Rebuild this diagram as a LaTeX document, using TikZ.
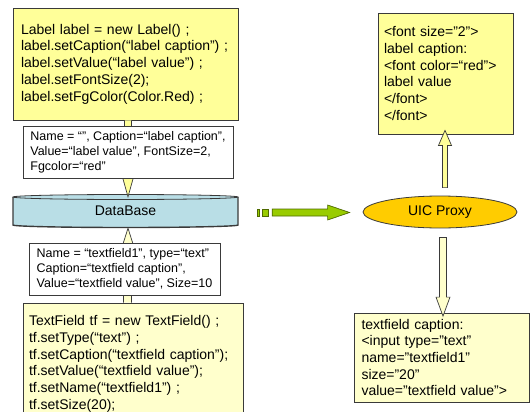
\documentclass[tikz,border=0pt]{standalone}
\usepackage{fontspec}
\setmainfont{Liberation Sans}
\usetikzlibrary{calc,shapes.geometric}

\definecolor{hiyel}{HTML}{FFFF99}
\definecolor{loyel}{HTML}{FFFFCC}
\definecolor{dbblue}{HTML}{B9DEE6}
\definecolor{proxy}{HTML}{FFCC00}
\definecolor{lime}{HTML}{99CC00}
\definecolor{limeedge}{HTML}{4F6A00}
\definecolor{edge}{HTML}{3A3A3A}

\begin{document}
\begin{tikzpicture}[x=1pt,y=-1pt,
  box/.style={draw=edge, line width=0.8pt, rectangle, inner ysep=0pt, align=left},
  code/.style={font=\fontsize{14}{16.7}\selectfont},
  note/.style={font=\fontsize{12.5}{14.8}\selectfont},
  blockarrow/.style={draw=edge, line width=0.7pt, line join=miter},
]
\useasboundingbox (0,0) rectangle (530,412);
\clip (0,0) rectangle (530,412);

% source code boxes
\node[box, code, fill=hiyel, minimum width=225, minimum height=112,
      inner xsep=8, text width=209] (tl) at (125.5,64)
  {Label label = new Label() ;\\
   label.setCaption(“label caption”) ;\\
   label.setValue(“label value”) ;\\
   label.setFontSize(2);\\
   label.setFgColor(Color.Red) ;};

\node[box, code, fill=loyel, minimum width=220, minimum height=122,
      inner xsep=6, text width=208] (bl) at (133,364)
  {TextField tf = new TextField() ;\\
   tf.setType(“text”) ;\\
   tf.setCaption(“textfield caption”);\\
   tf.setValue(“textfield value”);\\
   tf.setName(“textfield1”) ;\\
   tf.setSize(20);};

% database cylinder
\fill[dbblue] (13,197) -- (13,225)
  arc[start angle=180, end angle=0, x radius=112.5, y radius=2.5]
  -- (238,197)
  arc[start angle=0, end angle=-180, x radius=112.5, y radius=2.5] -- cycle;
\draw[edge, line width=0.8pt] (125.5,197) ellipse [x radius=112.5, y radius=2.5];
\draw[edge, line width=1.4pt] (13,197) -- (13,225)
  arc[start angle=180, end angle=0, x radius=112.5, y radius=2.5] -- (238,197);
\node[code, minimum width=225, minimum height=31, inner sep=0] (db) at (125.5,211) {DataBase};

% proxy
\node[ellipse, draw=edge, line width=0.8pt, fill=proxy, code,
      minimum width=154, minimum height=32, inner sep=0] (uic) at (440,212) {UIC Proxy};

% generated markup boxes
\node[box, code, fill=hiyel, minimum width=135, minimum height=121,
      inner xsep=6, text width=123] (tr) at (445.5,73.5)
  {<font size="2">\\
   label caption:\\
   <font color=“red">\\
   label value\\
   </font>\\
   </font>};

\node[box, code, fill=loyel, minimum width=175, minimum height=89,
      inner xsep=7, text width=161] (br) at (442,357.5)
  {textfield caption:\\
   <input type="text"\\
   name="textfield1"\\
   size="20"\\
   value="textfield value">};

% label object into the database
\coordinate (a1s) at ($(tl.south)+(2.5,0)$);
\coordinate (a1e) at ($(db.north)+(2.5,1.5)$);
\draw[blockarrow, fill=hiyel] ($(a1s)+(-3.5,0)$) -- ($(a1e)+(-3.5,-25)$) -- ($(a1e)+(-7,-25)$)
  -- (a1e) -- ($(a1e)+(7,-25)$) -- ($(a1e)+(3.5,-25)$) -- ($(a1s)+(3.5,0)$);

% textfield object into the database
\coordinate (a2s) at ($(bl.north)+(-5.5,0)$);
\coordinate (a2e) at ($(db.south)+(2.5,1.5)$);
\draw[blockarrow, fill=loyel] ($(a2s)+(-4,0)$) -- ($(a2e)+(-4,22)$) -- ($(a2e)+(-7,22)$)
  -- (a2e) -- ($(a2e)+(7,22)$) -- ($(a2e)+(4,22)$) -- ($(a2s)+(4,0)$);

% property boxes laid over the arrows (lines kept whole, block centred)
\node[box, note, fill=white, minimum width=210, minimum height=52,
      inner xsep=4] (w1) at (128,152)
  {Name = “”, Caption=“label caption”,\\
   Value=“label value”, FontSize=2,\\
   Fgcolor=“red”};

\node[box, note, fill=white, minimum width=191, minimum height=52,
      inner xsep=4] (w2) at (124.5,269)
  {Name = “textfield1”, type=“text”\\
   Caption=“textfield caption”,\\
   Value=“textfield value”, Size=10};

% database to proxy
\coordinate (g0) at ($(db.east)+(19,1.5)$);
\coordinate (g1) at ($(uic.west)+(-13,0.5)$);
\draw[limeedge, fill=lime, line width=0.7pt] ($(g0)+(0,-3.5)$) rectangle ($(g0)+(2.5,3.5)$);
\draw[limeedge, fill=lime, line width=0.7pt] ($(g0)+(5,-3.5)$) rectangle ($(g0)+(11.5,3.5)$);
\draw[limeedge, fill=lime, line width=0.7pt, line join=miter]
  ($(g0)+(15,-3.5)$) -- ($(g1)+(-22,-3.5)$) -- ($(g1)+(-22,-7.5)$) -- (g1)
  -- ($(g1)+(-22,7.5)$) -- ($(g1)+(-22,3.5)$) -- ($(g0)+(15,3.5)$) -- cycle;

% proxy output: label markup
\coordinate (a3s) at ($(uic.north)+(5,-8)$);
\coordinate (a3e) at ($(tr.south)+(-0.5,-4)$);
\draw[blockarrow, fill=hiyel] ($(a3s)+(-2.5,0)$) -- ($(a3e)+(-2.5,15)$) -- ($(a3e)+(-6.5,15)$)
  -- (a3e) -- ($(a3e)+(6.5,15)$) -- ($(a3e)+(2.5,15)$) -- ($(a3s)+(2.5,0)$) -- cycle;

% proxy output: textfield markup
\coordinate (a4s) at ($(uic.south)+(3,9)$);
\coordinate (a4e) at ($(br.north)+(1,3.5)$);
\draw[blockarrow, fill=loyel] ($(a4s)+(-3.5,0)$) -- ($(a4e)+(-3.5,-19)$) -- ($(a4e)+(-7,-19)$)
  -- (a4e) -- ($(a4e)+(7,-19)$) -- ($(a4e)+(3.5,-19)$) -- ($(a4s)+(3.5,0)$) -- cycle;
\end{tikzpicture}
\end{document}
